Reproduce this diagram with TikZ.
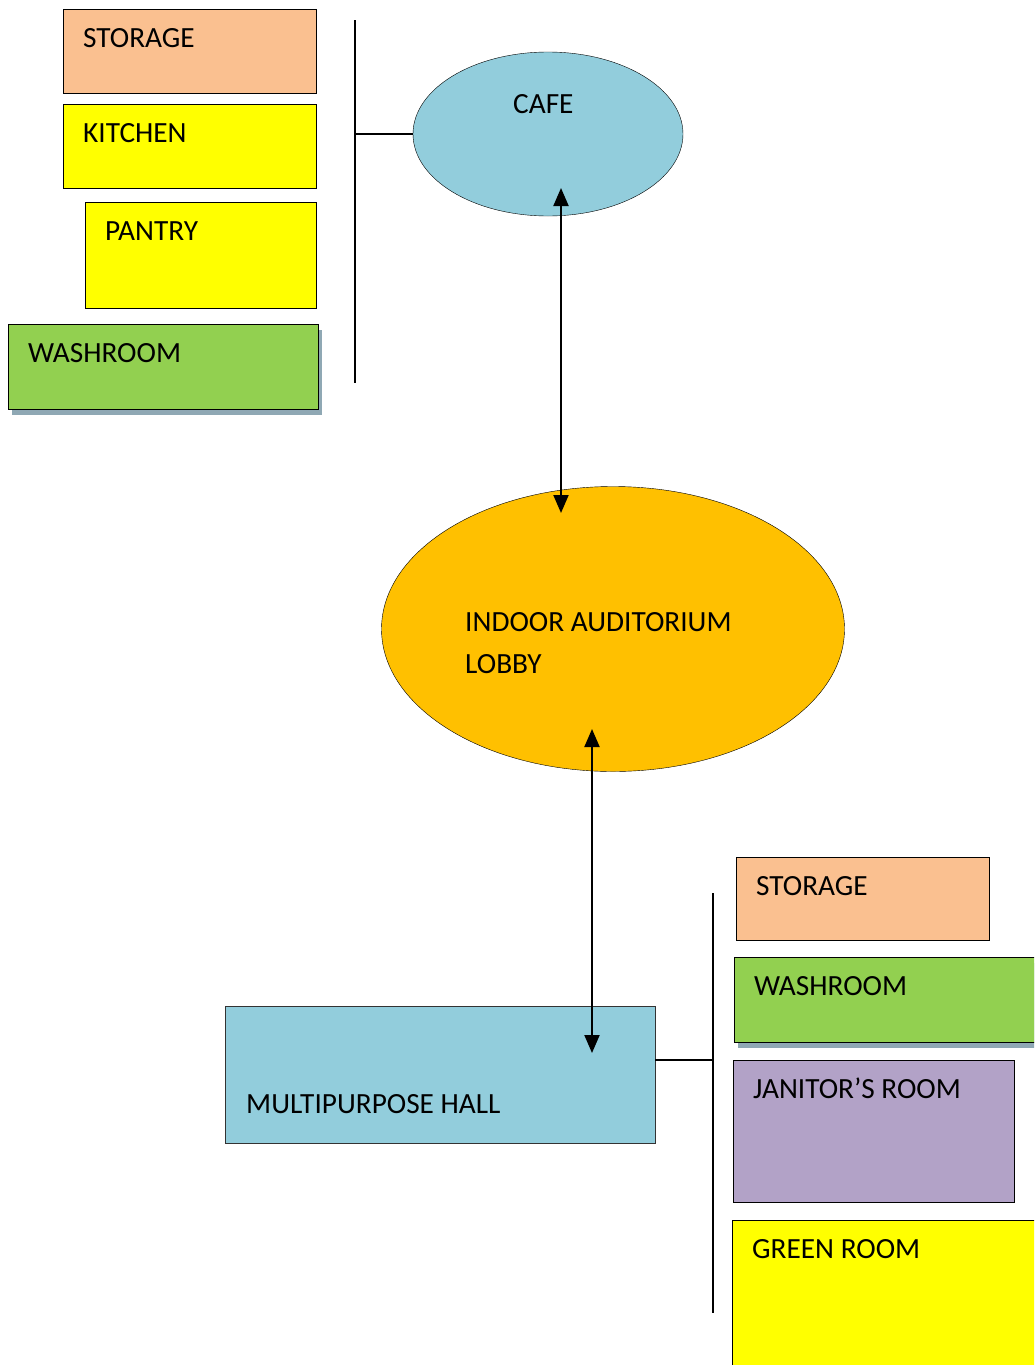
\documentclass[tikz,border=0pt]{standalone}
\usepackage{fontspec}
\setmainfont{Carlito}
\usetikzlibrary{shapes.geometric,arrows.meta}
\definecolor{salmon}{HTML}{FAC090}
\definecolor{lemon}{HTML}{FFFF00}
\definecolor{grass}{HTML}{92D050}
\definecolor{lilac}{HTML}{B2A2C7}
\definecolor{sky}{HTML}{92CDDC}
\definecolor{amber}{HTML}{FFC000}
\definecolor{shadowc}{HTML}{8FA8B4}

\begin{document}
\begin{tikzpicture}[x=1pt, y=-1pt, every node/.style={font=\fontsize{29.3}{42}\selectfont},
  room/.style={draw, line width=1.2pt, rectangle, anchor=north west, inner sep=0pt},
  roomtext/.style={anchor=base west, inner sep=0pt},
  plain/.style={},
  shadowed/.style={preaction={fill=shadowc, transform canvas={shift={(3pt,-5pt)}}}},
  link/.style={line width=2pt, {Triangle[width=15pt,length=18pt]}-{Triangle[width=15pt,length=18pt]}},
  bus/.style={line width=2pt}]
  \useasboundingbox (0,0) rectangle (1034,1365);
  \clip (0,0) rectangle (1034,1365);
  % rooms round the cafe and the hall
  \foreach \nm/\x/\y/\w/\h/\col/\sty/\txt in {
      storeA/63/9/253/84/salmon/plain/STORAGE,
      kitchen/63/104/253/84/lemon/plain/KITCHEN,
      pantry/85/202/231/106/lemon/plain/PANTRY,
      washA/8/324/310/85/grass/shadowed/WASHROOM,
      storeB/736/857/253/83/salmon/plain/STORAGE,
      washB/734/957/330/85/grass/shadowed/WASHROOM,
      janitor/733/1060/281/142/lilac/plain/JANITOR’S ROOM,
      green/732/1220/330/170/lemon/plain/GREEN ROOM} {
    \node[room, \sty, fill=\col, minimum width=\w pt, minimum height=\h pt] (\nm) at (\x,\y) {};
    \node[roomtext] (\nm-t) at ([shift={(20,38)}]\nm.north west) {\txt};
  }
  \node[ellipse, draw, fill=sky, inner sep=0pt, minimum width=270pt, minimum height=164pt] (cafe) at (548,134) {};
  \node[roomtext] (cafe-t) at (513,113) {CAFE};
  \node[ellipse, draw, fill=amber, inner sep=0pt, minimum width=463pt, minimum height=285pt] (lobby) at (613,629) {};
  \node[roomtext, align=left] (lobby-t) at (465,673) {INDOOR AUDITORIUM\\LOBBY};
  \node[room, draw=black!80, line width=1pt, fill=sky, minimum width=430pt, minimum height=137pt] (hall) at (225,1006) {};
  \node[roomtext] (hall-t) at (246,1113) {MULTIPURPOSE HALL};
  % buses
  \coordinate (busA) at (355,134);
  \draw[bus] (355,20) -- (355,383);
  \draw[bus] (busA) -- (cafe.west);
  \coordinate (busB) at (713,1060);
  \coordinate (hallE) at (655,1060);
  \draw[bus] (713,893) -- (713,1313);
  \draw[bus] (hallE) -- (busB);
  % links
  \coordinate (cafeIn) at (561,188);
  \coordinate (lobbyTop) at (561,513);
  \coordinate (lobbyIn) at (592,729);
  \coordinate (hallIn) at (592,1053);
  \draw[link] (cafeIn) -- (lobbyTop);
  \draw[link] (lobbyIn) -- (hallIn);
\end{tikzpicture}
\end{document}
